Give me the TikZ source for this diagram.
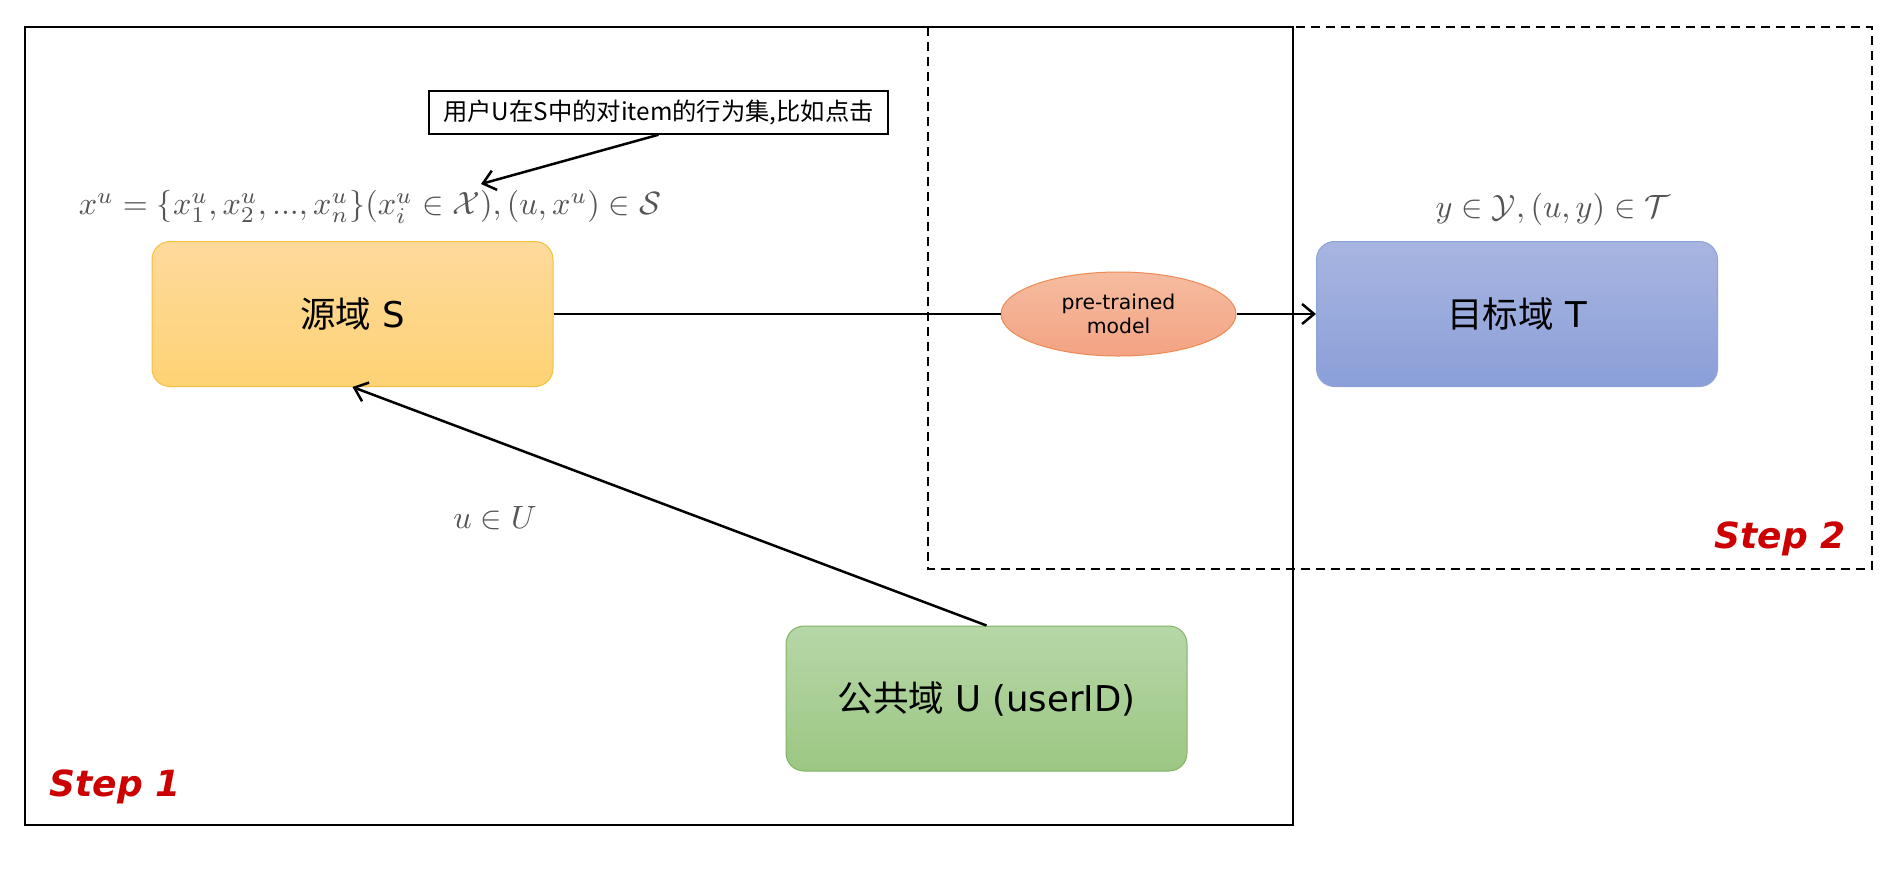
\documentclass[tikz,border=0pt]{standalone}
\usepackage{graphicx}
\usepackage{fontspec}
\setmainfont{DejaVu Sans}
\newfontfamily\cjk{Noto Sans CJK SC}
\usetikzlibrary{arrows.meta,shapes.geometric}
\definecolor{srcTop}{HTML}{FEDA9C}
\definecolor{srcBot}{HTML}{FED274}
\definecolor{srcLine}{HTML}{F5C040}
\definecolor{tgtTop}{HTML}{A8B5E1}
\definecolor{tgtBot}{HTML}{8A9FD8}
\definecolor{tgtLine}{HTML}{8EA2DA}
\definecolor{pubTop}{HTML}{B6D7A7}
\definecolor{pubBot}{HTML}{9CC783}
\definecolor{pubLine}{HTML}{82B366}
\definecolor{ellTop}{HTML}{F5BCA0}
\definecolor{ellBot}{HTML}{F3A383}
\definecolor{ellLine}{HTML}{EC8A55}
\definecolor{stepred}{HTML}{CC0000}
\definecolor{mathgray}{HTML}{555555}
\newcommand{\bigmath}[1]{\scalebox{3.22}{$#1$}}
\tikzset{
  domainbox/.style={rounded corners=18pt, minimum width=401pt, minimum height=145pt, line width=1pt, font=\fontsize{35.5}{42}\selectfont, inner sep=0pt},
  arr/.style={line width=2.5pt, -{Straight Barb[length=12pt,width=20pt,line width=2.5pt]}},
  plain/.style={line width=2.5pt},
  steplabel/.style={text=stepred, font=\fontsize{36}{42}\selectfont\bfseries\itshape},
  formula/.style={text=mathgray, font=\fontsize{10}{12}\selectfont}
}
\begin{document}
\begin{tikzpicture}[x=1pt,y=-1pt]
\useasboundingbox (0,0) rectangle (1895,879);
% frames
\draw[line width=2pt, dash pattern=on 9pt off 6pt] (928,27) rectangle (1872,569);
\draw[line width=2pt] (25,27) rectangle (1293,825);
% nodes
\node[domainbox, draw=srcLine, top color=srcTop, bottom color=srcBot] (S) at (352.5,314) {{\cjk 源域} S};
\node[domainbox, draw=tgtLine, top color=tgtTop, bottom color=tgtBot] (T) at (1517,314) {{\cjk 目标域} T};
\node[domainbox, draw=pubLine, top color=pubTop, bottom color=pubBot] (U) at (986.5,698.5) {{\cjk 公共域} U (userID)};
\node[ellipse, draw=ellLine, line width=1pt, top color=ellTop, bottom color=ellBot, minimum width=235pt, minimum height=84pt, inner sep=0pt, align=center, font=\fontsize{20.4}{24}\selectfont] (M) at (1118.5,314) {pre-trained\\model};
\node[draw, line width=1.5pt, minimum width=459pt, minimum height=43pt, inner sep=0pt, font=\cjk\fontsize{24.3}{29}\selectfont] (C) at (658.5,112.5) {用户U在S中的对item的行为集,比如点击};
% formulas
\node[formula] (fx) at (370,207) {\bigmath{x^u=\{x^u_1,x^u_2,...,x^u_n\}(x^u_i\in\mathcal{X}),(u,x^u)\in\mathcal{S}}};
\node[formula] (fy) at (1553,209) {\bigmath{y\in\mathcal{Y},(u,y)\in\mathcal{T}}};
\node[formula] (fu) at (495,518) {\bigmath{u\in U}};
% step labels
\node[steplabel] (s1) at (115,787) {Step 1};
\node[steplabel] (s2) at (1780,539) {Step 2};
% connectors
\coordinate (ct) at (481,184);
\draw[arr] (C.south) -- (ct);
\draw[plain] (S.east) -- (M.west);
\draw[arr] (M.east) -- (T.west);
\draw[arr] (U.north) -- (S.south);
\end{tikzpicture}
\end{document}
